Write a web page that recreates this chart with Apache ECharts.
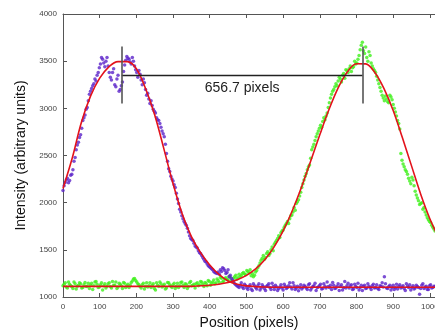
<!DOCTYPE html>
<html>
<head>
<meta charset="utf-8">
<script src="https://cdn.jsdelivr.net/npm/echarts@6/dist/echarts.min.js"></script>
<style>
  html, body { margin: 0; padding: 0; background: #fff; }
  #chart { width: 435px; height: 332px; }
</style>
</head>
<body>
<div id="chart"></div>
<script>
// Intensity profiles: two interleaved passes, each sampled every X_STEP pixels,
// the second pass shifted by X_SHIFT pixels
const X_STEP = 6;
const X_SHIFT = 3;

// Left spot (violet) profile
const profileA = [
  2130, 2215, 2260, 2235, 2300, 2440, 2560, 2640, 2720, 2870,
  2930, 3010, 3150, 3210, 3260, 3290, 3380, 3470, 3520, 3440,
  3540, 3380, 3300, 3420, 3230, 3350, 3200, 3280, 3460, 3550,
  3520, 3470, 3500, 3410, 3330, 3360, 3250, 3270, 3140, 3100,
  3080, 2990, 2950, 2880, 2840, 2760, 2700, 2520, 2360, 2280,
  2230, 2160, 2040, 1930, 1860, 1800, 1760, 1690, 1620, 1600,
  1540, 1520, 1470, 1440, 1400, 1370, 1330, 1310, 1290, 1260,
  1250, 1240, 1270, 1300, 1250, 1290, 1230, 1180, 1140, 1120,
  1100, 1150, 1090, 1120, 1080, 1130, 1070, 1120, 1085, 1140,
  1095, 1110, 1070, 1125, 1100, 1145, 1080, 1105, 1090, 1130,
  1075, 1115, 1100, 1150, 1085, 1120, 1095, 1065, 1130, 1100,
  1110, 1080, 1140, 1095, 1120, 1070, 1105, 1135, 1090, 1115,
  1160, 1100, 1080, 1125, 1095, 1140, 1110, 1075, 1165, 1120,
  1095, 1130, 1085, 1110, 1145, 1100, 1070, 1125, 1095, 1115,
  1080, 1135, 1100, 1090, 1120, 1150, 1215, 1095, 1110, 1075,
  1125, 1100, 1085, 1130, 1105, 1090, 1140, 1100, 1075, 1120,
  1095, 1110, 1030, 1125, 1090, 1115, 1080, 1130, 1100, 1110
];
const profileAShifted = [
  2180, 2240, 2210, 2290, 2350, 2480, 2610, 2690, 2790, 2900,
  2990, 3080, 3180, 3240, 3310, 3350, 3430, 3540, 3480, 3500,
  3450, 3330, 3380, 3250, 3310, 3180, 3240, 3390, 3510, 3530,
  3490, 3540, 3450, 3380, 3400, 3300, 3310, 3200, 3160, 3050,
  3030, 2970, 2900, 2870, 2800, 2730, 2620, 2440, 2330, 2250,
  2190, 2100, 1990, 1900, 1830, 1780, 1730, 1650, 1610, 1570,
  1530, 1490, 1460, 1420, 1380, 1350, 1320, 1300, 1270, 1255,
  1265, 1290, 1310, 1280, 1260, 1215, 1200, 1160, 1130, 1110,
  1125, 1105, 1135, 1095, 1110, 1085, 1140, 1100, 1120, 1075,
  1130, 1090, 1115, 1140, 1080, 1110, 1125, 1070, 1105, 1095,
  1135, 1090, 1120, 1105, 1150, 1080, 1115, 1100, 1085, 1125,
  1095, 1130, 1075, 1110, 1145, 1100, 1120, 1085, 1140, 1095,
  1110, 1125, 1155, 1090, 1115, 1070, 1130, 1100, 1095, 1145,
  1120, 1080, 1135, 1100, 1075, 1125, 1110, 1090, 1140, 1100,
  1120, 1095, 1130, 1080, 1115, 1105, 1140, 1090, 1125, 1100,
  1080, 1135, 1110, 1095, 1120, 1070, 1115, 1130, 1100, 1085,
  1125, 1100, 1090, 1140, 1105, 1080, 1120, 1095, 1115
];

// Right spot (green) profile
const profileB = [
  1120, 1150, 1095, 1135, 1110, 1160, 1085, 1125, 1140, 1100,
  1155, 1115, 1090, 1145, 1120, 1165, 1100, 1130, 1075, 1140,
  1115, 1150, 1095, 1125, 1160, 1105, 1135, 1090, 1145, 1120,
  1100, 1155, 1190, 1175, 1140, 1110, 1130, 1085, 1150, 1120,
  1100, 1140, 1075, 1125, 1160, 1105, 1135, 1095, 1150, 1115,
  1130, 1090, 1145, 1120, 1160, 1100, 1135, 1110, 1165, 1125,
  1095, 1150, 1130, 1160, 1110, 1145, 1175, 1125, 1160, 1140,
  1190, 1155, 1200, 1170, 1205, 1180, 1210, 1165, 1215, 1190,
  1240, 1225, 1260, 1235, 1270, 1290, 1250, 1230, 1280, 1330,
  1390, 1440, 1420, 1480, 1460, 1530, 1560, 1600, 1650, 1680,
  1710, 1760, 1800, 1830, 1870, 1950, 1990, 2030, 2110, 2200,
  2280, 2350, 2400, 2560, 2620, 2700, 2760, 2820, 2860, 2880,
  2950, 3060, 3150, 3200, 3260, 3290, 3310, 3350, 3320, 3400,
  3420, 3390, 3440, 3470, 3520, 3620, 3700, 3580, 3540, 3600,
  3480, 3420, 3380, 3300, 3220, 3140, 3080, 3100, 3060, 3120,
  3040, 2960, 2870, 2780, 2450, 2380, 2330, 2260, 2200, 2240,
  2120, 2050, 1980, 2000, 1950, 1870, 1820, 1790, 1740, 1700
];
const profileBShifted = [
  1135, 1105, 1160, 1120, 1090, 1140, 1115, 1150, 1095, 1130,
  1110, 1145, 1125, 1080, 1160, 1135, 1105, 1150, 1120, 1095,
  1140, 1110, 1165, 1125, 1090, 1145, 1120, 1155, 1100, 1135,
  1125, 1170, 1195, 1160, 1130, 1095, 1145, 1115, 1105, 1150,
  1125, 1090, 1150, 1110, 1140, 1120, 1085, 1155, 1130, 1100,
  1145, 1115, 1100, 1155, 1125, 1140, 1090, 1150, 1120, 1135,
  1140, 1120, 1165, 1135, 1155, 1120, 1165, 1145, 1180, 1150,
  1175, 1210, 1160, 1195, 1185, 1220, 1175, 1200, 1230, 1205,
  1215, 1250, 1245, 1280, 1255, 1225, 1215, 1265, 1310, 1360,
  1410, 1400, 1460, 1440, 1500, 1490, 1580, 1620, 1630, 1700,
  1740, 1780, 1780, 1860, 1900, 1920, 2010, 2070, 2160, 2240,
  2310, 2380, 2470, 2590, 2660, 2730, 2790, 2800, 2900, 2920,
  3010, 3110, 3180, 3230, 3240, 3330, 3280, 3370, 3410, 3380,
  3450, 3430, 3500, 3480, 3560, 3670, 3610, 3650, 3500, 3560,
  3450, 3400, 3340, 3260, 3180, 3110, 3130, 3070, 3140, 3090,
  3000, 2920, 2840, 2520, 2410, 2350, 2300, 2230, 2270, 2180,
  2080, 2020, 1990, 1930, 1900, 1840, 1800, 1760, 1720
];

// Fitted peak curves, sampled along the scan
const FIT_X = [
  0, 25, 50, 75, 100, 125, 150, 175, 200, 225, 250, 275, 300, 325,
  350, 375, 400, 425, 450, 475, 500, 525, 550, 575, 600, 625, 650, 675,
  700, 725, 750, 775, 800, 825, 850, 875, 900, 925, 950, 975, 1000, 1025
];
const fitA = [
  2150, 2470, 2850, 3130, 3320, 3440, 3495, 3495, 3420, 3210, 2930, 2570, 2200, 1880,
  1640, 1470, 1340, 1240, 1170, 1135, 1118, 1110, 1106, 1104, 1104, 1104, 1104, 1104,
  1104, 1104, 1104, 1104, 1104, 1104, 1104, 1104, 1104, 1104, 1104, 1104, 1104, 1104
];
const fitB = [
  1113, 1113, 1113, 1113, 1113, 1113, 1113, 1113, 1113, 1113, 1113, 1113, 1113, 1113,
  1113, 1119, 1125, 1136, 1154, 1183, 1229, 1297, 1395, 1528, 1701, 1915, 2164, 2438,
  2719, 2987, 3217, 3385, 3472, 3471, 3379, 3208, 2977, 2690, 2390, 2090, 1830, 1620
];

// Peak-to-peak annotation
const PEAK_A = 160;
const SEPARATION = 656.7;
const PEAK_B = PEAK_A + SEPARATION;
const BAR_Y = 3355;
const MARK_LOW = 3050;
const MARK_HIGH = 3655;

const X_MIN = 0, X_MAX = 1014, X_INTERVAL = 100;
const Y_MIN = 1000, Y_MAX = 4000, Y_INTERVAL = 500;

const FONT = 'Liberation Sans, Arial, sans-serif';
const toPoints = (arr, shift) => arr.map((v, i) => [shift + i * X_STEP, v]);
const zip = (xs, ys) => xs.map((x, i) => [x, ys[i]]);

const chart = echarts.init(document.getElementById('chart'), null, { renderer: 'canvas' });

const tickLabel = {
  color: '#444', fontSize: 8, fontFamily: FONT, margin: 6,
  formatter: v => String(v)
};
const axisLine = { show: true, lineStyle: { color: '#555', width: 1 } };
const axisTick = { show: true, inside: true, length: 4, lineStyle: { color: '#555', width: 1 } };

const DOT = 3.5;
const GREEN = '#3ef01a';
const VIOLET = '#5b23c9';
const RED = '#e3121b';

chart.setOption({
  animation: false,
  backgroundColor: '#fff',
  grid: { left: 63, right: 0, top: 14, bottom: 35, outerBoundsMode: 'none' },
  xAxis: [
    {
      type: 'value', position: 'bottom', min: X_MIN, max: X_MAX, interval: X_INTERVAL,
      axisLine, axisTick, axisLabel: tickLabel, splitLine: { show: false },
      name: 'Position (pixels)', nameLocation: 'middle', nameGap: 18,
      nameTextStyle: { fontSize: 14, color: '#111', fontFamily: FONT }
    },
    {
      type: 'value', position: 'top', min: X_MIN, max: X_MAX, interval: X_INTERVAL,
      axisLine, axisTick, axisLabel: { show: false }, splitLine: { show: false }
    }
  ],
  yAxis: {
    type: 'value', min: Y_MIN, max: Y_MAX, interval: Y_INTERVAL,
    axisLine, axisTick, axisLabel: tickLabel, splitLine: { show: false },
    name: 'Intensity (arbitrary units)', nameLocation: 'middle', nameGap: 31,
    nameTextStyle: { fontSize: 14, color: '#111', fontFamily: FONT }
  },
  series: [
    { type: 'scatter', data: toPoints(profileB, 0), symbolSize: DOT, itemStyle: { color: GREEN }, z: 2 },
    { type: 'scatter', data: toPoints(profileBShifted, X_SHIFT), symbolSize: DOT, itemStyle: { color: GREEN }, z: 2 },
    { type: 'scatter', data: toPoints(profileA, 0), symbolSize: DOT, itemStyle: { color: VIOLET }, z: 2 },
    { type: 'scatter', data: toPoints(profileAShifted, X_SHIFT), symbolSize: DOT, itemStyle: { color: VIOLET }, z: 2 },
    {
      type: 'line', data: zip(FIT_X, fitB), showSymbol: false, smooth: 0.35,
      lineStyle: { color: RED, width: 1.6 }, z: 3
    },
    {
      type: 'line', data: zip(FIT_X, fitA), showSymbol: false, smooth: 0.35,
      lineStyle: { color: RED, width: 1.6 }, z: 3
    },
    {
      type: 'line', data: [], z: 4,
      markLine: {
        silent: true, symbol: ['none', 'none'], animation: false,
        data: [
          [
            {
              coord: [PEAK_A, BAR_Y],
              lineStyle: { color: '#222', width: 1.3, type: 'solid' },
              label: {
                show: true, formatter: SEPARATION.toFixed(1) + ' pixels',
                position: 'insideMiddleBottom', distance: 6,
                fontSize: 14, color: '#222', fontFamily: FONT
              }
            },
            { coord: [PEAK_B, BAR_Y] }
          ],
          [
            { coord: [PEAK_A, MARK_LOW], lineStyle: { color: '#555', width: 1.6, type: 'solid' }, label: { show: false } },
            { coord: [PEAK_A, MARK_HIGH] }
          ],
          [
            { coord: [PEAK_B, MARK_LOW], lineStyle: { color: '#555', width: 1.6, type: 'solid' }, label: { show: false } },
            { coord: [PEAK_B, MARK_HIGH] }
          ]
        ]
      }
    }
  ]
});
</script>
</body>
</html>
